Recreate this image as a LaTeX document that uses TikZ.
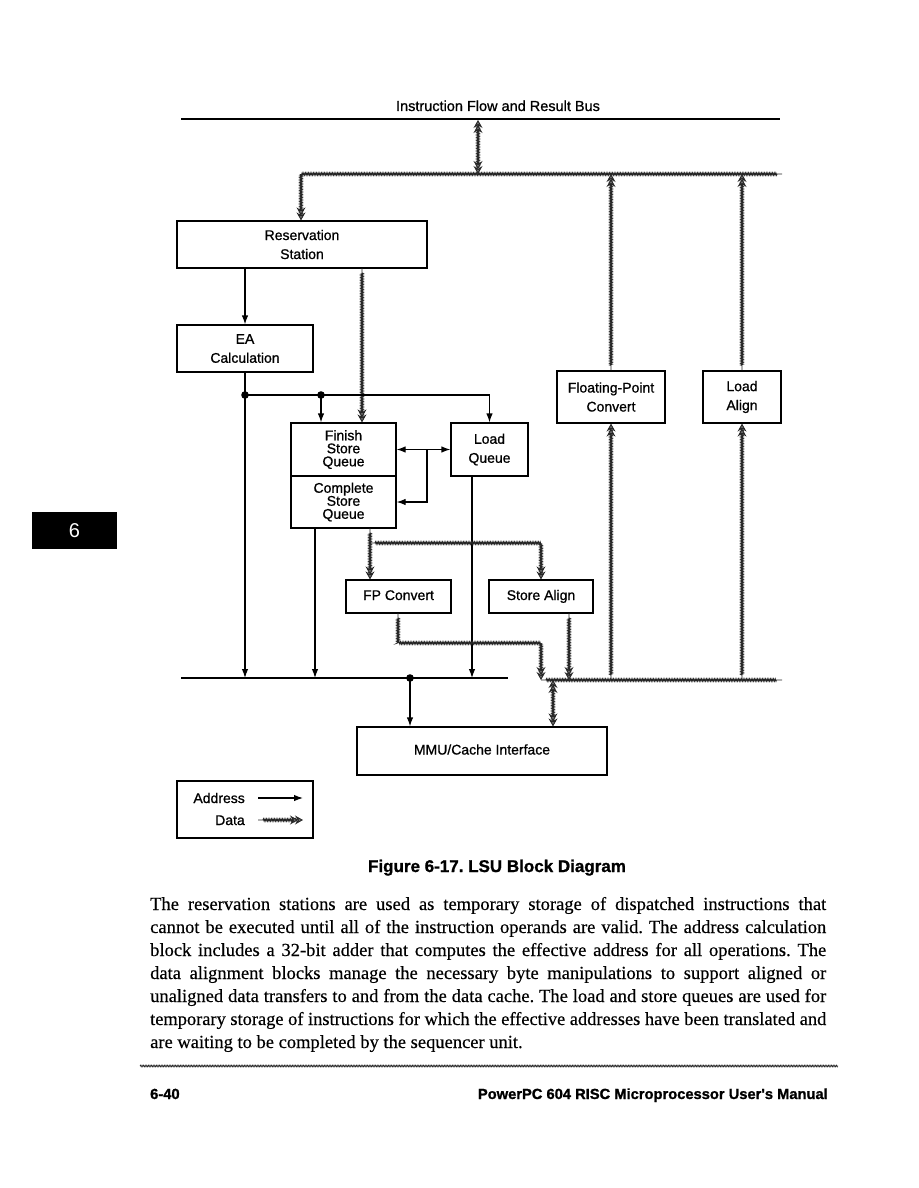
\documentclass[tikz,border=0pt]{standalone}
\usepackage{fontspec}
\usepackage{graphicx}
\setmainfont{Liberation Serif}
\setsansfont{Liberation Sans}
\newfontfamily\labfont[FakeBold=0.9]{Liberation Sans}
\newfontfamily\capfont[FakeBold=1.2]{Liberation Sans Bold}
\newfontfamily\bodyfont[FakeBold=0.4]{Liberation Serif}
\usetikzlibrary{arrows.meta,decorations.pathmorphing,calc}
\newsavebox\jlbox
\newcommand\jl[1]{\sbox\jlbox{#1}\ifdim\wd\jlbox>676pt\resizebox{676pt}{\height}{\usebox\jlbox}\else\makebox[676pt][s]{#1}\fi}
\newcommand\lab{\labfont\fontsize{14}{19}\selectfont}
\newcommand\labtight{\labfont\fontsize{14}{13}\selectfont}
\frenchspacing
\begin{document}
\begin{tikzpicture}[x=1pt,y=-1pt,
  box/.style={draw, line width=1.2pt, inner sep=0pt, align=center, font=\lab},
  one/.style={text height=10pt, text depth=3pt},
  addr/.style={line width=1.2pt},
  aarrow/.style={addr, -{Latex[length=9pt,width=6.5pt]}},
  abi/.style={addr, {Latex[length=9pt,width=6.5pt]}-{Latex[length=9pt,width=6.5pt]}},
  data/.style={draw=black!85, line width=0.9pt, decorate,
    decoration={zigzag, amplitude=1.2pt, segment length=1.6pt, pre length=5pt, post length=5pt}},
  dtip/.tip={Stealth[length=8pt,width=9pt,inset=3pt,fill=black!55,line width=0.9pt,sep=-3pt]Stealth[length=8pt,width=9pt,inset=3pt,fill=black!55,line width=0.9pt]},
  darrow/.style={data, -dtip},
  dbi/.style={data, dtip-dtip},
  body/.style={anchor=base west, inner sep=0pt, font=\bodyfont\fontsize{18.5}{23}\selectfont}
]
\useasboundingbox (0,0) rectangle (918,1188);

% title and top bus
\node[anchor=base, inner sep=0pt, font=\labfont\fontsize{14.5}{16}\selectfont] (title) at (498,111) {Instruction Flow and Result Bus};
\coordinate (tbL) at (181,119); \coordinate (tbR) at (780,119);
\coordinate (tbT) at (478,120);
\draw[line width=1.6pt] (tbL) -- (tbR);
\coordinate (dbL) at (301,174); \coordinate (dbR) at (782,174); \coordinate (dbT) at (478,174);

% boxes
\node[box, minimum width=250pt, minimum height=47pt] (rs) at (302,244.5) {Reservation\\Station};
\node[box, minimum width=136pt, minimum height=47pt] (ea) at (245,348.5) {EA\\Calculation};
\node[box, minimum width=105pt, minimum height=53pt, font=\labtight] (fsq) at (343.5,449.5) {Finish\\Store\\Queue};
\node[box, minimum width=105pt, minimum height=52pt, font=\labtight] (csq) at (343.5,502) {Complete\\Store\\Queue};
\node[box, minimum width=77pt, minimum height=53pt] (lq) at (489.5,449.5) {Load\\Queue};
\node[box, minimum width=108pt, minimum height=52pt] (fpc) at (611,397) {Floating-Point\\Convert};
\node[box, minimum width=78pt, minimum height=52pt] (la) at (742,397) {Load\\Align};
\node[box, one, minimum width=105pt, minimum height=33pt] (fpcv) at (398.5,596.5) {FP Convert};
\node[box, one, minimum width=104pt, minimum height=33pt] (sa) at (541,596.5) {Store Align};
\node[box, one, minimum width=250pt, minimum height=48pt] (mmu) at (482,751) {MMU/Cache Interface};

% data paths (top)
\draw[dbi] (tbT) -- (dbT);
\draw[darrow] (dbR) -- (dbL) -- (rs.north -| dbL);
\draw[darrow] (fpc.north) -- (fpc.north |- dbR);
\draw[darrow] (la.north) -- (la.north |- dbR);
\coordinate (rsd) at (362,268);
\draw[darrow] (rsd) -- (rsd |- fsq.north);

% address paths
\draw[aarrow] (rs.south -| ea) -- (ea.north);
\coordinate (d1) at (245,395); \coordinate (d2) at (321,395);
\coordinate (abL) at (181,678); \coordinate (abR) at (508,678); \coordinate (d3) at (410,678);
\draw[addr] (abL) -- (abR);
\draw[aarrow] (ea.south) -- (ea.south |- abL);
\draw[aarrow] (d1) -- (d1 -| lq.north) -- (lq.north);
\draw[aarrow] (d2) -- (d2 |- fsq.north);
\draw[abi] (fsq.east) -- (lq.west);
\coordinate (jn) at (427,449.5);
\draw[aarrow] (jn) -- (jn |- csq.east) -- (csq.east);
\coordinate (csqA) at (315,528);
\draw[aarrow] (csqA) -- (csqA |- abL);
\coordinate (lqA) at (472,476);
\draw[aarrow] (lqA) -- (lqA |- abL);
\draw[aarrow] (d3) -- (d3 |- mmu.north);
\fill (d1) circle (3.8pt); \fill (d2) circle (3.8pt); \fill (d3) circle (3.8pt);

% data paths (bottom)
\coordinate (csqD) at (370,528); \coordinate (spl) at (370,543);
\draw[darrow] (csqD) -- (csqD |- fpcv.north);
\draw[darrow] (spl) -- (spl -| sa.north) -- (sa.north);
\coordinate (bdL) at (541,680); \coordinate (bdR) at (782,680);
\coordinate (fvD) at (398,613); \coordinate (fvB) at (398,643);
\draw[darrow] (fvD) -- (fvB) -- (fvB -| bdL) -- (bdL);
\draw[data] (bdL) -- (bdR);
\coordinate (saD) at (569,613);
\draw[darrow] (saD) -- (saD |- bdL);
\draw[darrow] (fpc.south |- bdL) -- (fpc.south);
\draw[darrow] (la.south |- bdL) -- (la.south);
\coordinate (mT) at (553,680);
\draw[dbi] (mT) -- (mT |- mmu.north);

% legend
\node[box, minimum width=136pt, minimum height=57pt] (lg) at (245,809.5) {};
\node[anchor=base east, inner sep=0pt, font=\lab] (ladr) at (245,803) {Address};
\node[anchor=base east, inner sep=0pt, font=\lab] (ldat) at (245,825) {Data};
\coordinate (a1s) at (258,798); \coordinate (a1e) at (303,798);
\coordinate (a2s) at (258,820); \coordinate (a2e) at (303,820);
\draw[aarrow] (a1s) -- (a1e);
\draw[darrow] (a2s) -- (a2e);

% tab
\fill (32,512) rectangle (117,549);
\node[white, font=\sffamily\fontsize{20}{20}\selectfont] (tab) at (74.5,530.5) {6};

% caption
\node[anchor=base, inner sep=0pt, font=\capfont\fontsize{17}{20}\selectfont] (cap) at (497,872) {Figure 6-17. LSU Block Diagram};

% body text
\node[body] (l1) at (150,910) {\jl{The reservation stations are used as temporary storage of dispatched instructions that}};
\node[body] (l2) at (150,933) {\jl{cannot be executed until all of the instruction operands are valid. The address calculation}};
\node[body] (l3) at (150,956) {\jl{block includes a 32-bit adder that computes the effective address for all operations. The}};
\node[body] (l4) at (150,979) {\jl{data alignment blocks manage the necessary byte manipulations to support aligned or}};
\node[body] (l5) at (150,1002) {\jl{unaligned data transfers to and from the data cache. The load and store queues are used for}};
\node[body] (l6) at (150,1025) {\jl{temporary storage of instructions for which the effective addresses have been translated and}};
\node[body] (l7) at (150,1048) {are waiting to be completed by the sequencer unit.};

% footer rule and footer
\coordinate (frL) at (140,1066); \coordinate (frR) at (838,1066);
\draw[draw=black!85, line width=0.6pt, decorate, decoration={zigzag, amplitude=0.9pt, segment length=1.6pt}] (frL) -- (frR);
\node[anchor=base west, inner sep=0pt, font=\capfont\fontsize{14.7}{16}\selectfont] (pg) at (150,1099) {6-40};
\node[anchor=base east, inner sep=0pt, font=\capfont\fontsize{14.7}{16}\selectfont] (man) at (828,1099) {PowerPC 604 RISC Microprocessor User's Manual};
\end{tikzpicture}
\end{document}
